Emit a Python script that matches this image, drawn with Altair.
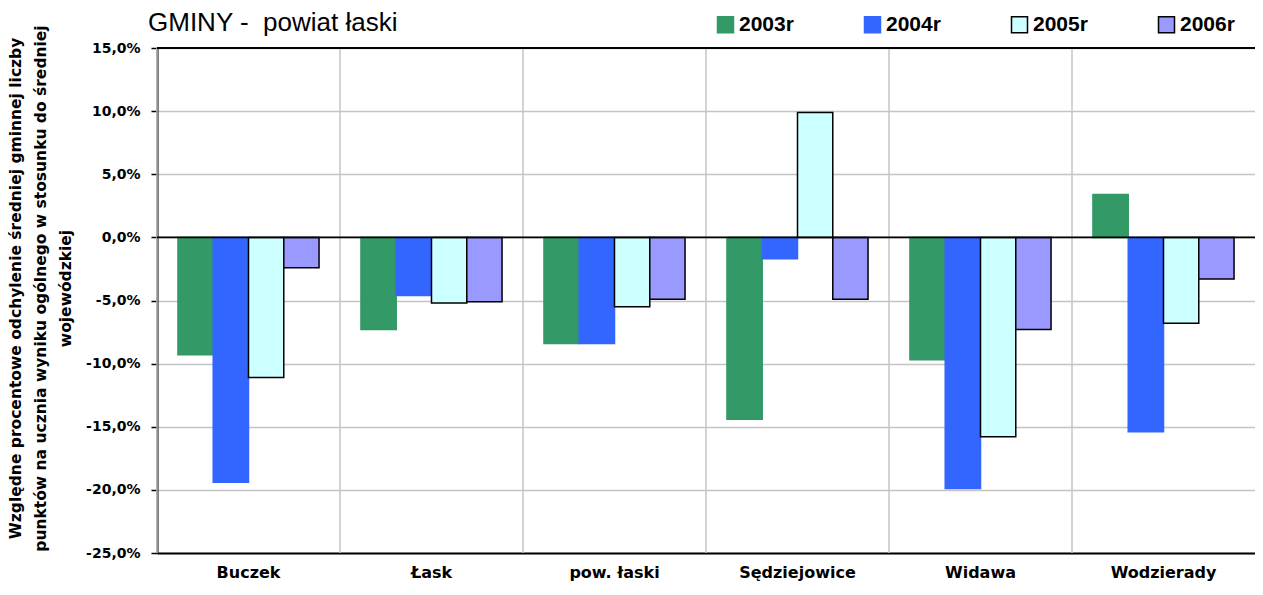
import altair as alt
import pandas as pd

cats = ["Buczek", "Łask", "pow. łaski", "Sędziejowice", "Widawa", "Wodzierady"]
years = ["2003r", "2004r", "2005r", "2006r"]
v2003 = [-9.3, -7.3, -8.4, -14.4, -9.7, 3.4]
v2004 = [-19.4, -4.6, -8.4, -1.7, -19.9, -15.4]
v2005 = [-11.1, -5.2, -5.5, 9.9, -15.8, -6.8]
v2006 = [-2.4, -5.1, -4.9, -4.9, -7.3, -3.3]
y_ticks = [-25, -20, -15, -10, -5, 0, 5, 10, 15]
ref_lines = [0, 15]
chart_title = ["GMINY -\u00a0 powiat łaski"]

fills = ["#339966", "#3366FF", "#CCFFFF", "#9999FF"]
strokes = ["#339966", "#3366FF", "#000000", "#000000"]

rows = []
for yr, vals in zip(years, [v2003, v2004, v2005, v2006]):
    for c, v in zip(cats, vals):
        rows.append({"gmina": c, "rok": yr, "val": v})
df = pd.DataFrame(rows)

ytitle = [
    "Względne procentowe odchylenie średniej gminnej liczby",
    "punktów na ucznia wyniku ogólnego w stosunku do średniej",
    "wojewódzkiej",
]

y_scale = alt.Scale(domain=[-25, 15], nice=False, zero=False)
x_scale = alt.Scale(paddingInner=0, paddingOuter=0)

legend = alt.Legend(orient="none", legendX=558, legendY=-34,
                    direction="horizontal", title=None,
                    symbolType="square", symbolSize=256,
                    symbolStrokeWidth=1.5, symbolOpacity=1,
                    labelFont="Liberation Sans", labelFontSize=21,
                    labelFontWeight="bold", labelColor="black",
                    labelOffset=3, columnPadding=67)

x_axis = alt.Axis(title=None, labelAngle=0, ticks=False, grid=False,
                  domain=True, domainColor="black", domainWidth=2,
                  labelFont="DejaVu Sans", labelFontWeight="bold",
                  labelFontSize=16, labelColor="black", labelPadding=11)

separators = alt.Chart(pd.DataFrame({"gmina": cats})).mark_rule(
    color="#c4c4c4", strokeWidth=1.5
).encode(
    x=alt.X("gmina:N", sort=cats, scale=x_scale, bandPosition=0, axis=x_axis),
)

bars = alt.Chart(df).mark_bar(strokeWidth=1.5).encode(
    x=alt.X("gmina:N", sort=cats, scale=x_scale, axis=x_axis),
    xOffset=alt.XOffset("rok:N", sort=years,
                        scale=alt.Scale(paddingOuter=0.594, paddingInner=0)),
    y=alt.Y("val:Q", scale=y_scale,
            axis=alt.Axis(values=y_ticks, grid=True, gridColor="#c4c4c4", gridWidth=1.5,
                          domainColor="black", domainWidth=2,
                          tickColor="black", tickWidth=1.5, tickSize=6,
                          labelFont="DejaVu Sans", labelFontWeight="bold",
                          labelFontSize=14, labelColor="black", labelPadding=11,
                          labelExpr="replace(replace(format(datum.value, '.1f'), '.', ','), '\u2212', '-') + '%'",
                          title=ytitle, titleFont="DejaVu Sans", titleFontWeight="bold",
                          titleFontSize=15.5, titleColor="black", titleLineHeight=25,
                          titleX=-149, titleY=240, titleAngle=-90, titleBaseline="top")),
    color=alt.Color("rok:N", sort=years, scale=alt.Scale(domain=years, range=fills),
                    legend=legend),
    stroke=alt.Stroke("rok:N", sort=years, scale=alt.Scale(domain=years, range=strokes),
                      legend=legend),
)

rules = alt.Chart(pd.DataFrame({"y": ref_lines})).mark_rule(color="black", strokeWidth=1.8).encode(
    y=alt.Y("y:Q", scale=y_scale)
)

title_text = alt.Chart(pd.DataFrame({"t": chart_title})).mark_text(
    align="left", baseline="alphabetic", font="Liberation Sans", fontSize=26,
    fontWeight="normal", color="black"
).encode(text="t:N", x=alt.value(-9), y=alt.value(-17))

chart = alt.layer(separators, bars, rules, title_text).properties(
    width=1098,
    height=505,
    autosize=alt.AutoSizeParams(type="none"),
    padding={"left": 149, "top": 40, "right": 0, "bottom": 30},
).configure_view(stroke="#808080", strokeWidth=1.5).configure(background="white")

chart.save("out.html", embed_options={"renderer": "svg", "actions": False})
